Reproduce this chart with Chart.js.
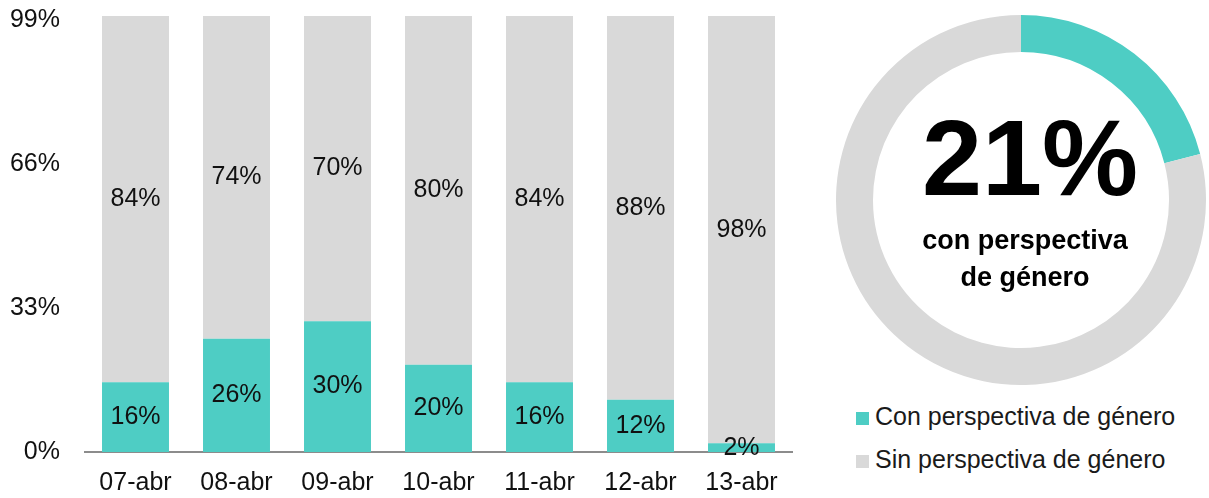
<!DOCTYPE html>
<html>
<head>
<meta charset="utf-8">
<script src="https://cdn.jsdelivr.net/npm/chart.js@4.4.1/dist/chart.umd.min.js"></script>
<style>
    body { margin: 0; background: #fff; font-family: "Liberation Sans", Arial, sans-serif; }
    #wrap { position: relative; width: 1209px; height: 498px; overflow: hidden; }
    #bars { position: absolute; left: 0; top: 0; }
    #ring { position: absolute; left: 836px; top: 15px; }
    .big { position: absolute; left: 830px; width: 400px; top: 104px; text-align: center; font-weight: bold; font-size: 108px; line-height: 1; color: #000; }
    .sub { position: absolute; left: 825px; width: 400px; text-align: center; font-weight: bold; font-size: 27px; line-height: 1; color: #000; }
    .leg { position: absolute; left: 856px; font-size: 25px; line-height: 1; color: #1a1a1a; white-space: nowrap; }
    .leg i { position: absolute; left: 0; width: 13px; height: 13px; }
    .leg span { position: absolute; left: 19px; top: 0; }
</style>
</head>
<body>
<div id="wrap">
    <canvas id="bars" width="800" height="498" style="width:800px;height:498px"></canvas>
    <canvas id="ring" width="370" height="370" style="width:370px;height:370px"></canvas>
    <div class="big" id="bigText"></div>
    <div class="sub" style="top:227px">con perspectiva</div>
    <div class="sub" style="top:264px">de género</div>
    <div class="leg" style="top:404px"><i style="top:8px;background:#4ECDC4"></i><span>Con perspectiva de género</span></div>
    <div class="leg" style="top:447px"><i style="top:8px;background:#D9D9D9"></i><span>Sin perspectiva de género</span></div>
</div>
<script>
    const categories = ['07-abr', '08-abr', '09-abr', '10-abr', '11-abr', '12-abr', '13-abr'];
    const conPerspectiva = [16, 26, 30, 20, 16, 12, 2];
    const sinPerspectiva = [84, 74, 70, 80, 84, 88, 98];
    const yTicks = [0, 33, 66, 99];
    const totalCon = 21;
    const totalSin = 79;

    const TEAL = '#4ECDC4';
    const GRAY = '#D9D9D9';
    const FONT = '"Liberation Sans", Arial, sans-serif';

    document.getElementById('bigText').textContent = totalCon + '%';

    // etiquetas dentro de cada segmento
    const barLabels = {
        id: 'barLabels',
        afterDatasetsDraw(chart) {
            const ctx = chart.ctx;
            ctx.save();
            ctx.font = '25px ' + FONT;
            ctx.fillStyle = '#111';
            ctx.textAlign = 'center';
            ctx.textBaseline = 'middle';
            chart.data.datasets.forEach((ds, i) => {
                chart.getDatasetMeta(i).data.forEach((bar, j) => {
                    ctx.fillText(ds.data[j] + '%', bar.x, (bar.y + bar.base) / 2);
                });
            });
            ctx.restore();
        }
    };

    new Chart(document.getElementById('bars'), {
        type: 'bar',
        data: {
            labels: categories,
            datasets: [
                { label: 'Con perspectiva de género', data: conPerspectiva, backgroundColor: TEAL },
                { label: 'Sin perspectiva de género', data: sinPerspectiva, backgroundColor: GRAY }
            ]
        },
        options: {
            responsive: false,
            animation: false,
            layout: { padding: { top: 16, right: 8, left: 0, bottom: 0 } },
            datasets: { bar: { categoryPercentage: 1, barPercentage: 0.663, borderWidth: 0 } },
            plugins: { legend: { display: false }, tooltip: { enabled: false } },
            scales: {
                x: {
                    stacked: true,
                    grid: { display: false, drawTicks: false },
                    border: { display: true, color: '#8c8c8c', width: 2 },
                    ticks: { color: '#111', font: { family: FONT, size: 25 }, padding: 16 },
                    afterFit: s => { s.height = 46; s.paddingLeft = 0; s.paddingRight = 0; }
                },
                y: {
                    stacked: true,
                    min: 0,
                    max: 100,
                    grid: { display: false, drawTicks: false },
                    border: { display: false },
                    afterBuildTicks: s => { s.ticks = yTicks.map(v => ({ value: v })); },
                    ticks: { color: '#111', font: { family: FONT, size: 25 }, padding: 25, callback: v => v + '%' },
                    afterFit: s => { s.width = 85; s.paddingTop = 0; s.paddingBottom = 0; }
                }
            }
        },
        plugins: [barLabels]
    });

    new Chart(document.getElementById('ring'), {
        type: 'doughnut',
        data: {
            labels: ['Con perspectiva de género', 'Sin perspectiva de género'],
            datasets: [{ data: [totalCon, totalSin], backgroundColor: [TEAL, GRAY], borderWidth: 0 }]
        },
        options: {
            responsive: false,
            animation: false,
            cutout: '80%',
            plugins: { legend: { display: false }, tooltip: { enabled: false } }
        }
    });
</script>
</body>
</html>
